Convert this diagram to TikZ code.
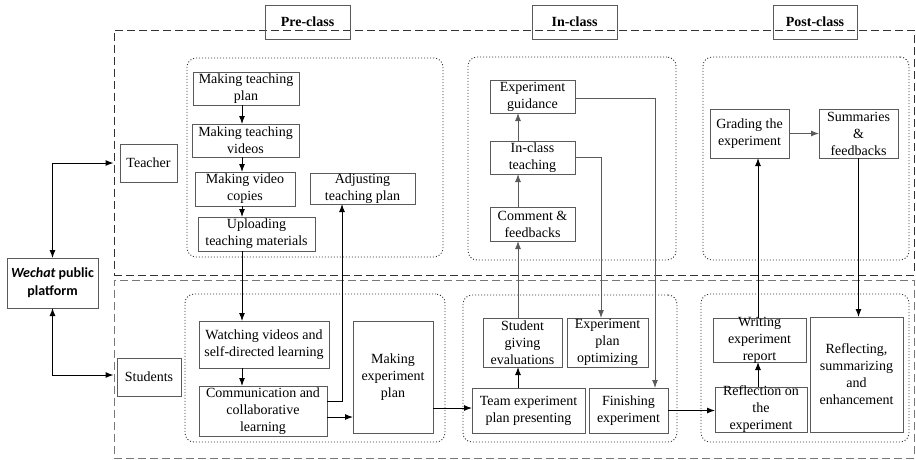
\documentclass[tikz,border=0pt]{standalone}
\usepackage{fontspec}
\setmainfont{Liberation Serif}
\newfontfamily\wcfont{Carlito}
\usetikzlibrary{arrows.meta,calc}
\definecolor{boxgray}{HTML}{5A5A5A}
\definecolor{dashdark}{HTML}{333333}
\definecolor{dashlight}{HTML}{777777}
\definecolor{dotgray}{HTML}{333333}
\definecolor{arrgray}{HTML}{5A5A5A}
\begin{document}
\begin{tikzpicture}[x=1pt,y=-1pt,
  bx/.style 2 args={draw=boxgray, line width=0.8pt, minimum width=#1, minimum height=#2, inner sep=0pt, outer sep=0pt, font=\fontsize{14}{17}\selectfont, align=center},
  txt/.style={align=center, font=\fontsize{14}{17}\selectfont, inner sep=0pt, text=black},
  hdr/.style={draw=boxgray, line width=0.8pt, minimum width=85pt, minimum height=34pt, inner sep=0pt, font=\bfseries\fontsize{14}{17}\selectfont},
  dotbox/.style 2 args={draw=dotgray, dash pattern=on 1pt off 2pt, line width=0.9pt, rounded corners=9pt, minimum width=#1, minimum height=#2, inner sep=0pt},
  dashbox/.style 2 args={dash pattern=on 8pt off 4pt, line width=1pt, minimum width=#1, minimum height=#2, inner sep=0pt},
  arr/.style={draw=black, line width=1pt, -{Latex[length=8pt,width=6pt]}},
  garr/.style={draw=arrgray, line width=1pt, -{Latex[length=8pt,width=6pt]}},
  darr/.style={draw=black, line width=1pt, {Latex[length=8pt,width=6pt]}-{Latex[length=8pt,width=6pt]}}
]
\useasboundingbox (0,0) rectangle (916,459);

% bands
\node[dashbox={800pt}{245pt}, draw=dashdark] (tband) at (514,152.5) {};
\node[dashbox={800pt}{178pt}, draw=dashlight] (sband) at (514,369) {};

% headers
\node[hdr] (hpre) at (307.5,22) {Pre-class};
\node[hdr] (hin) at (574.5,22) {In-class};
\node[hdr, minimum width=84pt] (hpost) at (815,22) {Post-class};

% roles
\node[bx={57pt}{38pt}] (teacher) at (148.5,163) {Teacher};
\node[bx={64pt}{38pt}] (stu) at (149,377) {Students};
\node[bx={91pt}{50pt}, font=\wcfont\bfseries\fontsize{14}{18}\selectfont] (wc) at (52.5,283) {{\itshape Wechat} public\\platform};

% dotted groups
\node[dotbox={256pt}{199pt}] (d1) at (315,157.5) {};
\node[dotbox={260pt}{148pt}] (d2) at (315,368) {};
\node[dotbox={208pt}{203pt}] (d3) at (572,158.5) {};
\node[dotbox={214pt}{147pt}] (d4) at (570,368.5) {};
\node[dotbox={206pt}{203pt}] (d5) at (806,158.5) {};
\node[dotbox={208pt}{148pt}] (d6) at (805,368) {};

% pre-class teacher
\node[bx={106pt}{33pt}, label={[txt]center:{Making teaching\\plan}}] (mtp) at (246,88.5) {};
\node[bx={107pt}{33pt}, label={[txt]center:{Making teaching\\videos}}] (mtv) at (245.5,140.5) {};
\node[bx={100pt}{34pt}, label={[txt]center:{Making video\\copies}}] (mvc) at (245,189) {};
\node[bx={117pt}{34pt}, label={[txt]center:{Uploading\\teaching materials}}] (upl) at (256.5,234) {};
\node[bx={105pt}{31pt}, label={[txt]center:{Adjusting\\teaching plan}}] (adj) at (362.5,188.5) {};

% pre-class students
\node[bx={130pt}{47pt}, label={[txt]center:{Watching videos and\\self-directed learning}}] (wat) at (264,344.5) {};
\node[bx={128pt}{50pt}, label={[txt]center:{Communication and\\collaborative\\learning}}] (com) at (263,411) {};
\node[bx={80pt}{112pt}, label={[txt]center:{Making\\experiment\\plan}}] (mep) at (393,377) {};

% in-class teacher
\node[bx={85pt}{33pt}, label={[txt]center:{Experiment\\guidance}}] (eg) at (532.5,96.5) {};
\node[bx={85pt}{33pt}, label={[txt]center:{In-class\\teaching}}] (ict) at (532.5,157.5) {};
\node[bx={85pt}{34pt}, label={[txt]center:{Comment \&\\feedbacks}}] (cf) at (532.5,224) {};

% in-class students
\node[bx={79pt}{49pt}, label={[txt]center:{Student\\giving\\evaluations}}] (sge) at (522.5,342.5) {};
\node[bx={81pt}{49pt}, label={[txt]center:{Experiment\\plan\\optimizing}}] (epo) at (607.5,342.5) {};
\node[bx={113pt}{45pt}, label={[txt]center:{Team experiment\\plan presenting}}] (team) at (528.5,410.5) {};
\node[bx={79pt}{45pt}, label={[txt]center:{Finishing\\experiment}}] (fin) at (628.5,410.5) {};

% post-class teacher
\node[bx={79pt}{49pt}, label={[txt]center:{Grading the\\experiment}}] (gr) at (749.5,133.5) {};
\node[bx={79pt}{49pt}, label={[txt]center:{Summaries\\\&\\feedbacks}}] (sum) at (858.5,133.5) {};

% post-class students
\node[bx={93pt}{44pt}, label={[txt]center:{Writing\\experiment\\report}}] (wr) at (759.5,340) {};
\node[bx={92pt}{45pt}, label={[txt]center:{Reflection on\\the\\experiment}}] (refl) at (761,409.5) {};
\node[bx={93pt}{115pt}, label={[txt]center:{Reflecting,\\summarizing\\and\\enhancement}}] (rse) at (856.5,374.5) {};

% axes
\coordinate (ax1) at (242,0);
\coordinate (ax2) at (518,0);
\coordinate (ax3) at (758,0);

% connectors pre-class
\draw[arr] (mtp.south -| ax1) -- (mtv.north -| ax1);
\draw[arr] (mtv.south -| ax1) -- (mvc.north -| ax1);
\draw[arr] (mvc.south -| ax1) -- (upl.north -| ax1);
\draw[arr] (upl.south -| ax1) -- (wat.north -| ax1);
\draw[arr] (wat.south -| ax1) -- (com.north -| ax1);
\draw[arr] ([yshift=10pt]com.east) -| ([xshift=-20.5pt]adj.south);
\draw[arr] ([yshift=-6pt]com.east) -- ([yshift=-6pt]com.east -| mep.west);
\draw[arr] ([yshift=2.5pt]team.west -| mep.east) -- ([yshift=2.5pt]team.west);

% in-class
\draw[arr] (team.north -| ax2) -- (sge.south -| ax2);
\draw[garr] (sge.north -| ax2) -- (cf.south -| ax2);
\draw[garr] (cf.north -| ax2) -- (ict.south -| ax2);
\draw[garr] (ict.north -| ax2) -- (eg.south -| ax2);
\draw[garr] (ict.east) -| ([xshift=-6.5pt]epo.north);
\draw[garr] ([yshift=-1.5pt]eg.east) -| ([xshift=26.5pt]fin.north);
\draw[arr] (fin.east) -- (fin.east -| refl.west);

% post-class
\draw[arr] (refl.north -| ax3) -- (wr.south -| ax3);
\draw[arr] (wr.north -| ax3) -- (gr.south -| ax3);
\draw[garr] (gr.east) -- (sum.west);
\draw[arr] (sum.south) -- (sum.south |- rse.north);

% platform
\draw[darr] (wc.north) |- (tband.west |- teacher.west);
\draw[darr] (wc.south) |- ([yshift=2pt]sband.west |- stu.west);
\end{tikzpicture}
\end{document}
